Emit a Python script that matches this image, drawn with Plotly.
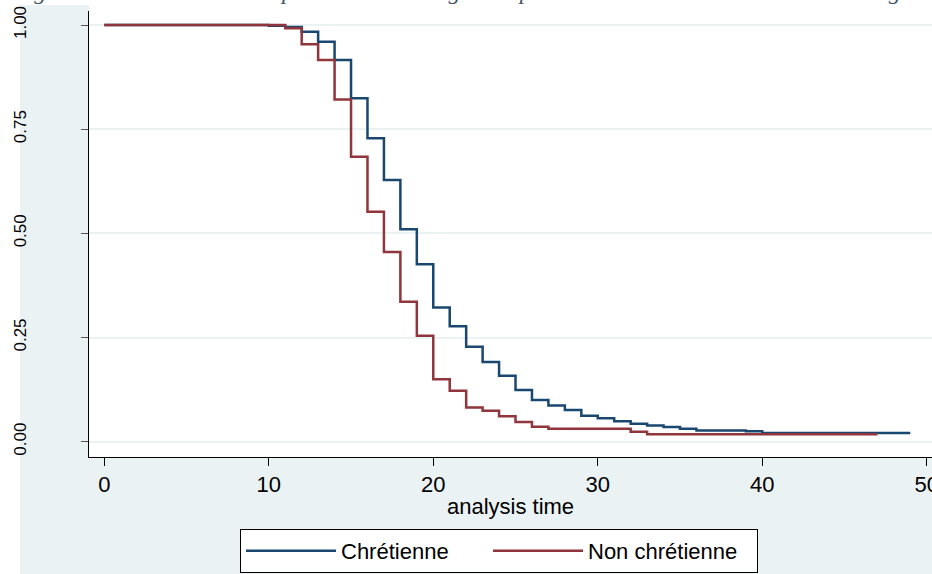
import plotly.graph_objects as go

# Kaplan-Meier survival estimates
chret_time = [0, 10, 11, 12, 13, 14, 15, 16, 17, 18, 19, 20, 21, 22, 23, 24, 25, 26, 27, 28,
              29, 30, 31, 32, 33, 34, 35, 36, 39, 40, 49]
chret_surv = [1.0, 0.998, 0.995, 0.984, 0.960, 0.916, 0.824, 0.728, 0.628, 0.510, 0.426, 0.322,
              0.277, 0.228, 0.191, 0.158, 0.124, 0.100, 0.087, 0.076, 0.062, 0.056, 0.049, 0.043,
              0.039, 0.035, 0.031, 0.027, 0.025, 0.021, 0.021]

nonchret_time = [0, 11, 12, 13, 14, 15, 16, 17, 18, 19, 20, 21, 22, 23, 24, 25, 26, 27, 32, 33, 47]
nonchret_surv = [1.0, 0.992, 0.954, 0.916, 0.821, 0.684, 0.552, 0.455, 0.336, 0.254, 0.150, 0.122,
                 0.082, 0.074, 0.061, 0.047, 0.036, 0.031, 0.024, 0.018, 0.018]

series_names = ["Chrétienne", "Non chrétienne"]
x_ticks = [0, 10, 20, 30, 40, 50]
y_ticks = [0, 0.25, 0.5, 0.75, 1.0]
x_title = "analysis time"
caption = "Figure 5 : Estimation de Kaplan-Meier de l'âge à la première relation sexuelle selon la religion"

NAVY = "#1a476f"
MAROON = "#90353b"
BG = "#eaf2f3"

fig = go.Figure()
fig.add_trace(go.Scatter(x=chret_time, y=chret_surv, mode="lines", line_shape="hv",
                         name=series_names[0], legendwidth=142,
                         line=dict(color=NAVY, width=2.5)))
fig.add_trace(go.Scatter(x=nonchret_time, y=nonchret_surv, mode="lines", line_shape="hv",
                         name=series_names[1], legendwidth=164,
                         line=dict(color=MAROON, width=2.5)))

W, H = 932, 574
ml, mr, mt, mb = 89, 0, 11, 117
ph = H - mt - mb

def py(p):
    return (H - mb - p) / ph

def px(p):
    return (p - ml) / (W - ml - mr)

fig.update_layout(
    width=W, height=H,
    margin=dict(l=ml, r=mr, t=mt, b=mb, pad=0, autoexpand=False),
    paper_bgcolor="white",
    plot_bgcolor="white",
    font=dict(family="Liberation Sans, Arial, sans-serif", color="black"),
    showlegend=True,
    legend=dict(
        orientation="h",
        xref="container", yref="container",
        x=499 / W, xanchor="center",
        y=(H - 529) / H, yanchor="top",
        bgcolor="white",
        bordercolor="black", borderwidth=1,
        font=dict(size=22, color="black"),
        itemwidth=90,
        traceorder="normal",
    ),
    shapes=[
        dict(type="rect", xref="paper", yref="paper", x0=px(20), x1=1.05, y0=-0.4, y1=py(5),
             fillcolor=BG, line=dict(width=0), layer="below"),
        dict(type="rect", xref="paper", yref="paper", x0=0, x1=1.05, y0=0, y1=py(5),
             fillcolor="white", line=dict(width=0), layer="below"),
    ],
    annotations=[
        dict(text=caption, xref="paper", yref="paper", x=px(10), y=py(-9),
             xanchor="left", yanchor="middle", showarrow=False,
             font=dict(family="Liberation Serif, Times New Roman, serif", size=24,
                       color="#44546a", style="italic")),
    ],
)

fig.update_xaxes(
    range=[-0.93, 50.32],
    tickvals=x_ticks,
    ticks="outside", ticklen=8, tickcolor="black", tickwidth=1,
    tickfont=dict(size=22, color="black"),
    ticklabeloverflow="allow",
    showline=True, linecolor="black", linewidth=1,
    showgrid=False, zeroline=False,
    title=dict(text=x_title, font=dict(size=22, color="black"), standoff=2),
)
fig.update_yaxes(
    range=[-0.0367, 1.0336],
    tickvals=y_ticks, tickformat=".2f",
    tickangle=-90,
    ticks="outside", ticklen=7, tickcolor="#555555", tickwidth=1,
    tickfont=dict(size=17, color="black"),
    ticklabelstandoff=48,
    ticklabeloverflow="allow",
    showline=True, linecolor="black", linewidth=1,
    showgrid=True, gridcolor=BG, gridwidth=2,
    zeroline=False,
)

fig.write_html(
    "out.html",
    config={"displayModeBar": False},
    post_script="document.body.style.margin='0px';document.body.style.overflow='hidden';",
)
